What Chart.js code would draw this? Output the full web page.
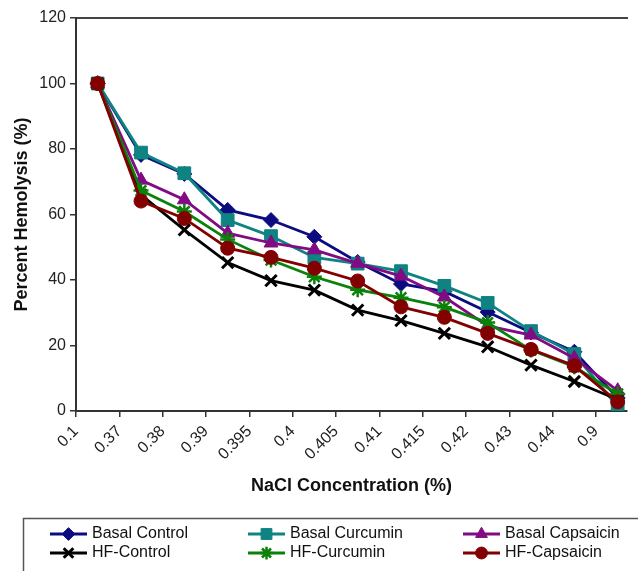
<!DOCTYPE html>
<html><head><meta charset="utf-8">
<script src="https://cdn.jsdelivr.net/npm/chart.js@4/dist/chart.umd.min.js"></script>
<style>html,body{margin:0;padding:0;background:#fff;overflow:hidden}</style>
</head><body>
<canvas id="c" width="638" height="571"></canvas>
<script>
const categories = ['0.1','0.37','0.38','0.39','0.395','0.4','0.405','0.41','0.415','0.42','0.43','0.44','0.9'];
const basalControl   = [100, 78.2, 72.4, 61.4, 58.3, 53.2, 45.5, 38.8, 36.5, 30.2, 24.0, 18.1, 4.0];
const basalCurcumin  = [100, 78.9, 72.6, 58.3, 53.4, 46.9, 45.0, 42.7, 38.2, 33.0, 24.4, 17.4, 1.3];
const basalCapsaicin = [100, 70.5, 64.5, 54.3, 51.3, 49.2, 45.1, 41.2, 34.8, 26.0, 23.2, 16.1, 6.2];
const hfControl      = [100, 66.0, 55.3, 45.3, 39.8, 36.9, 30.8, 27.6, 23.7, 19.6, 14.0, 9.0, 3.5];
const hfCurcumin     = [100, 67.3, 60.9, 52.4, 46.1, 41.0, 37.0, 34.6, 31.7, 27.0, 18.6, 13.5, 5.2];
const hfCapsaicin    = [100, 64.1, 58.8, 49.7, 46.9, 43.6, 39.7, 31.8, 28.6, 23.7, 18.8, 13.8, 2.8];
const yTicks = [0, 20, 40, 60, 80, 100, 120];

const toPts = arr => arr.map((v, i) => ({x: i + 0.5, y: v}));
function mk(label, data, color, style, radius, bw, order) {
  return {label, data: toPts(data), borderColor: color, backgroundColor: color,
    pointBackgroundColor: color, pointBorderColor: color, pointStyle: style,
    pointRadius: radius, pointBorderWidth: bw, borderWidth: 2.8, order, tension: 0, fill: false};
}
const datasets = [
  mk('Basal Control', basalControl, '#0c0c80', 'rectRot', 7.5, 1, 6),
  mk('Basal Curcumin', basalCurcumin, '#0f8282', 'rect', 9, 1, 5),
  mk('Basal Capsaicin', basalCapsaicin, '#820a82', 'triangle', 8, 1, 4),
  mk('HF-Control', hfControl, '#000000', 'crossRot', 8, 3, 3),
  mk('HF-Curcumin', hfCurcumin, '#0a820a', 'star', 7.5, 2.5, 2),
  mk('HF-Capsaicin', hfCapsaicin, '#820000', 'circle', 7, 1, 1)
];

const FONT = '"Liberation Sans", Arial, sans-serif';
const boxLegend = {
  id: 'boxLegend',
  afterDraw(chart) {
    const ctx = chart.ctx;
    ctx.save();
    ctx.strokeStyle = '#555'; ctx.lineWidth = 1.5;
    ctx.strokeRect(23.5, 518.5, 660, 80);
    const cols = [50, 248, 463], rows = [534, 553];
    chart.data.datasets.forEach((ds, i) => {
      const cx = cols[i % 3], cy = rows[Math.floor(i / 3)];
      ctx.strokeStyle = ds.borderColor; ctx.lineWidth = 2.8;
      ctx.beginPath(); ctx.moveTo(cx, cy); ctx.lineTo(cx + 37, cy); ctx.stroke();
      ctx.fillStyle = ds.pointBackgroundColor; ctx.strokeStyle = ds.pointBorderColor; ctx.lineWidth = ds.pointBorderWidth;
      Chart.helpers.drawPoint(ctx, {pointStyle: ds.pointStyle, radius: ds.pointRadius * 0.85, rotation: 0, borderWidth: ds.pointBorderWidth}, cx + 18.5, cy);
      ctx.fillStyle = '#111'; ctx.font = '16px ' + FONT; ctx.textBaseline = 'middle'; ctx.textAlign = 'left';
      ctx.fillText(ds.label, cx + 42, cy);
    });
    ctx.restore();
  }
};

new Chart(document.getElementById('c'), {
  type: 'line',
  data: {datasets},
  plugins: [boxLegend],
  options: {
    responsive: false, animation: false, devicePixelRatio: 1,
    layout: {padding: {top: 18, left: 0, right: 0, bottom: 73}},
    plugins: {legend: {display: false}, tooltip: {enabled: false}},
    scales: {
      x: {
        type: 'linear', position: 'bottom', min: 0, max: 12.715,
        afterBuildTicks: s => { s.ticks = categories.map((_, i) => ({value: i})); },
        afterFit: s => { s.height = 87; },
        ticks: {callback: (v, i) => categories[i], autoSkip: false, maxRotation: 45, minRotation: 45,
          font: {size: 16, family: FONT}, color: '#222', padding: 5},
        grid: {display: true, drawOnChartArea: false, drawTicks: true, tickLength: 6, color: '#333', lineWidth: 1.5},
        border: {color: '#333', width: 2},
        title: {display: true, text: 'NaCl Concentration (%)', font: {size: 18, weight: 'bold', family: FONT}, color: '#111', padding: {top: 0, bottom: 1}}
      },
      x2: {
        type: 'linear', position: 'top', min: 0, max: 1,
        afterFit: s => { s.height = 0; },
        ticks: {display: false}, grid: {display: false, drawTicks: false},
        border: {display: true, color: '#444', width: 2}
      },
      y: {
        type: 'linear', min: 0, max: 120,
        afterBuildTicks: s => { s.ticks = yTicks.map(v => ({value: v})); },
        afterFit: s => { s.width = 76; },
        ticks: {font: {size: 16, family: FONT}, color: '#222', padding: 4},
        grid: {display: true, drawOnChartArea: false, drawTicks: true, tickLength: 6, color: '#333', lineWidth: 1.5},
        border: {color: '#333', width: 2},
        title: {display: true, text: 'Percent Hemolysis (%)', font: {size: 18, weight: 'bold', family: FONT}, color: '#111', padding: {top: 11, bottom: 0}}
      }
    }
  }
});
</script>
</body></html>
